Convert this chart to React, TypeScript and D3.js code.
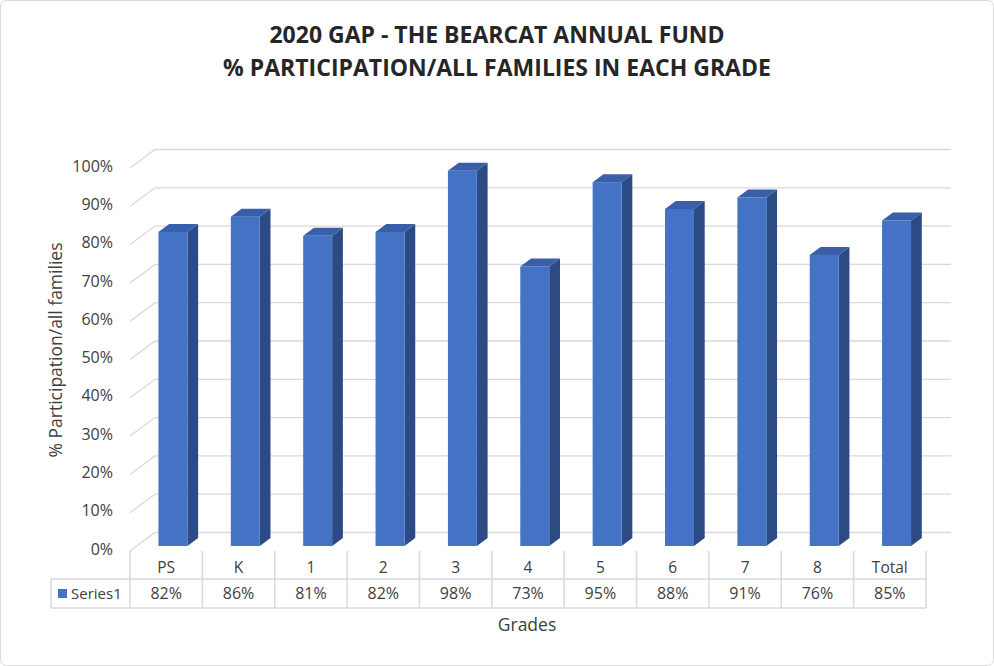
import { useEffect, useRef } from 'react'
import * as d3 from 'd3'

const grades = ['PS', 'K', '1', '2', '3', '4', '5', '6', '7', '8', 'Total']
const participation = [82, 86, 81, 82, 98, 73, 95, 88, 91, 76, 85]
const yTicks = [0, 10, 20, 30, 40, 50, 60, 70, 80, 90, 100]
const seriesName = 'Series1'

const W = 994
const H = 666
const FONT = '"Open Sans", "Noto Sans", sans-serif'

export default function App() {
  const svgRef = useRef<SVGSVGElement>(null)

  useEffect(() => {
    if (!svgRef.current) return
    const svg = d3.select(svgRef.current)
    svg.selectAll('*').remove()

    // chart frame
    svg.append('rect')
      .attr('x', 0.5).attr('y', 0.5)
      .attr('width', W - 1).attr('height', H - 1)
      .attr('rx', 6)
      .attr('fill', '#fff')
      .attr('stroke', '#d9d9d9')

    // title
    const title = svg.append('text')
      .attr('text-anchor', 'middle')
      .style('font-family', FONT)
      .style('font-size', '23px')
      .style('font-weight', '700')
      .style('fill', '#262626')
    title.append('tspan').attr('x', 497).attr('y', 43).text('2020 GAP - THE BEARCAT ANNUAL FUND')
    title.append('tspan').attr('x', 497).attr('y', 76).text('% PARTICIPATION/ALL FAMILIES IN EACH GRADE')

    // oblique 3D setup
    const depthX = 25
    const depthY = -18.5
    const x = d3.scaleBand<string>().domain(grades).range([130, 926]).padding(0)
    const y = d3.scaleLinear().domain([0, 100]).range([551, 168])

    const g = svg.append('g')

    // wall gridlines: diagonal on side wall + horizontal on back wall
    yTicks.forEach(t => {
      const yf = y(t)
      g.append('path')
        .attr('d', `M${130},${yf}L${130 + depthX},${yf + depthY}L${926 + depthX},${yf + depthY}`)
        .attr('fill', 'none')
        .attr('stroke', '#d9d9d9')
        .attr('stroke-width', 1.3)
    })

    // y tick labels
    g.selectAll('text.ytick')
      .data(yTicks)
      .enter()
      .append('text')
      .attr('class', 'ytick')
      .attr('x', 113)
      .attr('y', d => y(d) - 2)
      .attr('dy', '0.35em')
      .attr('text-anchor', 'end')
      .style('font-family', FONT)
      .style('font-size', '16px')
      .style('fill', '#404040')
      .text(d => d + '%')

    // bars
    const f1 = 0.27
    const f2 = 0.7
    const barW = x.bandwidth() * 0.4
    const front = '#4472c4'
    const side = '#2c4a83'
    const top = '#3a5fa9'

    grades.forEach((c, i) => {
      const v = participation[i]
      const cx = (x(c) as number) + x.bandwidth() / 2
      const x0 = cx - barW / 2 + depthX * f1
      const x1 = x0 + barW
      const yb = y(0) + depthY * f1
      const yt = y(v) + depthY * f1
      const ddx = depthX * (f2 - f1)
      const ddy = depthY * (f2 - f1)
      // side
      g.append('path')
        .attr('d', `M${x1},${yb}L${x1 + ddx},${yb + ddy}L${x1 + ddx},${yt + ddy}L${x1},${yt}Z`)
        .attr('fill', side)
      // top
      g.append('path')
        .attr('d', `M${x0},${yt}L${x0 + ddx},${yt + ddy}L${x1 + ddx},${yt + ddy}L${x1},${yt}Z`)
        .attr('fill', top)
      // front
      g.append('rect')
        .attr('x', x0).attr('y', yt)
        .attr('width', barW).attr('height', yb - yt)
        .attr('fill', front)
    })

    // data table
    const tY0 = 551
    const tY1 = 579
    const tY2 = 608
    const tLeft = 51
    const lineColor = '#d9d9d9'
    const tbl = svg.append('g')
    const line = (x1: number, y1: number, x2: number, y2: number) =>
      tbl.append('line')
        .attr('x1', x1).attr('y1', y1).attr('x2', x2).attr('y2', y2)
        .attr('stroke', lineColor).attr('stroke-width', 1.5)

    line(tLeft, tY1, 926, tY1)
    line(tLeft, tY2, 926, tY2)
    line(tLeft, tY1, tLeft, tY2)
    grades.forEach(c => line(x(c) as number, tY0, x(c) as number, tY2))
    line(926, tY0, 926, tY2)

    tbl.selectAll('text.cat')
      .data(grades)
      .enter()
      .append('text')
      .attr('class', 'cat')
      .attr('x', d => (x(d) as number) + x.bandwidth() / 2)
      .attr('y', (tY0 + tY1) / 2 + 3)
      .attr('dy', '0.35em')
      .attr('text-anchor', 'middle')
      .style('font-family', FONT)
      .style('font-size', '15.5px')
      .style('fill', '#404040')
      .text(d => d)

    tbl.selectAll('text.val')
      .data(participation)
      .enter()
      .append('text')
      .attr('class', 'val')
      .attr('x', (_, i) => (x(grades[i]) as number) + x.bandwidth() / 2)
      .attr('y', (tY1 + tY2) / 2)
      .attr('dy', '0.35em')
      .attr('text-anchor', 'middle')
      .style('font-family', FONT)
      .style('font-size', '16px')
      .style('fill', '#404040')
      .text(d => d + '%')

    // legend key
    tbl.append('rect')
      .attr('x', 58).attr('y', 589).attr('width', 9).attr('height', 9)
      .attr('fill', front)
    tbl.append('text')
      .attr('x', 71).attr('y', (tY1 + tY2) / 2)
      .attr('dy', '0.35em')
      .style('font-family', FONT)
      .style('font-size', '15px')
      .style('fill', '#404040')
      .text(seriesName)

    // axis titles
    svg.append('text')
      .attr('transform', `translate(56, 350) rotate(-90)`)
      .attr('text-anchor', 'middle')
      .attr('dy', '0.35em')
      .style('font-family', FONT)
      .style('font-size', '17.5px')
      .style('fill', '#404040')
      .text('% Participation/all families')

    svg.append('text')
      .attr('x', 527).attr('y', 625)
      .attr('dy', '0.35em')
      .attr('text-anchor', 'middle')
      .style('font-family', FONT)
      .style('font-size', '17.5px')
      .style('fill', '#404040')
      .text('Grades')
  }, [])

  return (
    <svg
      ref={svgRef}
      width={W}
      height={H}
      style={{ position: 'absolute', left: 0, top: 0, background: '#fff' }}
    />
  )
}
